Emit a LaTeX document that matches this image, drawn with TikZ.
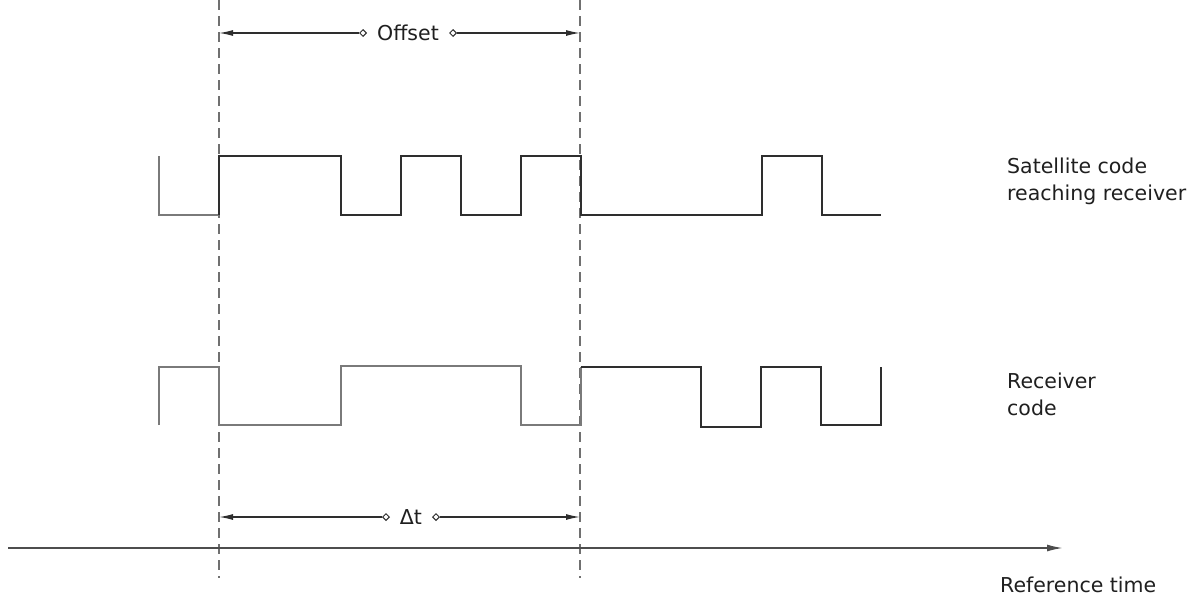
\documentclass[tikz,border=0pt]{standalone}
\usepackage{fontspec}
\setmainfont{DejaVu Sans}
\usetikzlibrary{arrows.meta,shapes.geometric}
\definecolor{ink}{HTML}{2E2E2E}
\definecolor{thin}{HTML}{7A7A7A}
\definecolor{dashc}{HTML}{707070}
\tikzset{
  thickwave/.style={draw=ink,line width=2.9pt,line join=miter},
  thinwave/.style={draw=thin,line width=1.7pt,line join=miter},
  guide/.style={draw=dashc,line width=1.4pt,dash pattern=on 10pt off 6pt},
  dimline/.style={draw=ink,line width=1.3pt},
  tip/.style={-{Latex[length=14pt,width=6pt]}},
  dmd/.style={diamond,draw=ink,fill=white,line width=1pt,inner sep=0pt,minimum size=7pt},
  lbl/.style={text=black!88,font=\fontsize{20.5}{27}\selectfont,inner sep=0pt},
  sidelbl/.style={lbl,align=left,anchor=west},
}
\begin{document}
\begin{tikzpicture}[x=1pt,y=-1pt]
\useasboundingbox (0,0) rectangle (1200,600);
% guide lines
\coordinate (gAt) at (219,0);  \coordinate (gAb) at (219,578);
\coordinate (gBt) at (580,0);  \coordinate (gBb) at (580,578);
\draw[guide] (gAt) -- (gAb);
\draw[guide] (gBt) -- (gBb);
% satellite code waveform
\draw[thinwave] (159,156) -- (159,215) -- (219,215);
\draw[thickwave] (219,215) -- (219,156) -- (341,156) -- (341,215) -- (401,215) -- (401,156)
  -- (461,156) -- (461,215) -- (521,215) -- (521,156) -- (581,156) -- (581,215)
  -- (762,215) -- (762,156) -- (822,156) -- (822,215) -- (881,215);
% receiver code waveform
\draw[thinwave] (159,425) -- (159,367) -- (219,367) -- (219,425) -- (341,425) -- (341,366)
  -- (521,366) -- (521,425) -- (581,425) -- (581,367);
\draw[thickwave] (581,367) -- (701,367) -- (701,427) -- (761,427) -- (761,367) -- (821,367)
  -- (821,425) -- (881,425) -- (881,367);
% offset dimension
\coordinate (oL) at (219,33); \coordinate (oR) at (580,33);
\node[lbl] (offset) at (408,33) {Offset};
\node[dmd] (od1) at (363,33) {};
\node[dmd] (od2) at (453,33) {};
\draw[dimline,tip] (od1) -- (oL);
\draw[dimline,tip] (od2) -- (oR);
% delta t dimension
\coordinate (tL) at (219,517); \coordinate (tR) at (580,517);
\node[lbl] (dt) at (411,517) {Δt};
\node[dmd] (td1) at (386,517) {};
\node[dmd] (td2) at (436,517) {};
\draw[dimline,tip] (td1) -- (tL);
\draw[dimline,tip] (td2) -- (tR);
% time axis
\coordinate (ax0) at (8,548); \coordinate (ax1) at (1063,548);
\draw[draw=ink!85,line width=1.7pt,-{Latex[length=16pt,width=7pt]}] (ax0) -- (ax1);
% labels
\node[sidelbl] (sat) at (1007,181) {Satellite code\\reaching receiver};
\node[sidelbl] (rec) at (1007,394) {Receiver\\code};
\node[lbl,anchor=west] (ref) at (1000,585) {Reference time};
\end{tikzpicture}
\end{document}
